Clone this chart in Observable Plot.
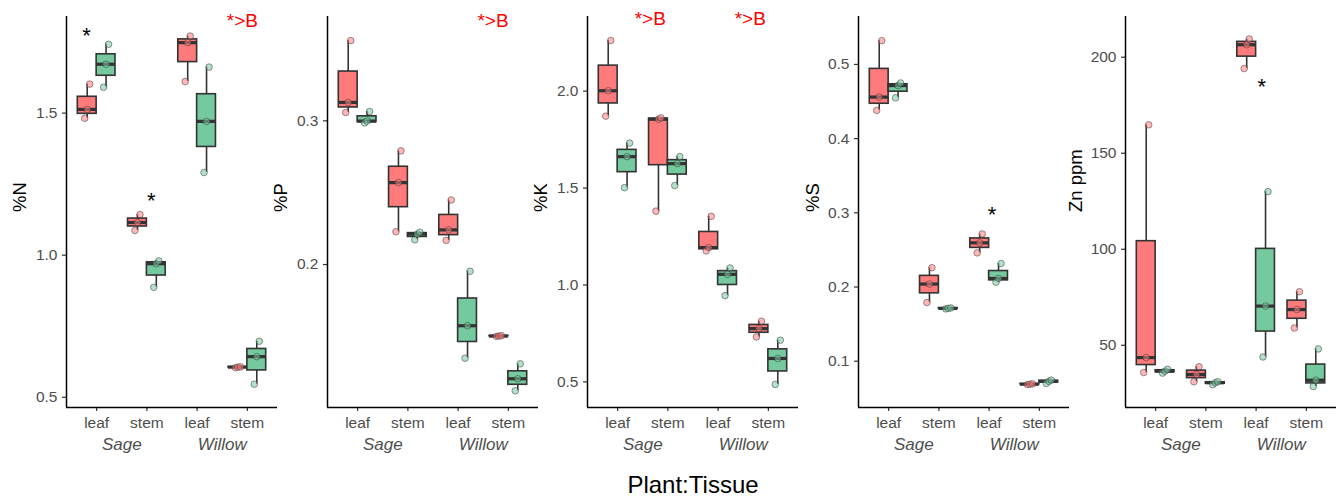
<!DOCTYPE html>
<html>
<head>
<meta charset="utf-8">
<script src="https://cdn.jsdelivr.net/npm/d3@7"></script>
<script src="https://cdn.jsdelivr.net/npm/@observablehq/plot@0.6"></script>
<style>
html, body { margin: 0; padding: 0; background: #fff; overflow: hidden; }
#wrap { position: relative; width: 1338px; height: 498px; font-family: "Liberation Sans", Arial, Helvetica, sans-serif; }
.panel { position: absolute; top: 0; }
#xtitle { position: absolute; top: 473px; left: 693px; transform: translateX(-50%); font-size: 24px; line-height: 24px; color: #000; white-space: nowrap; }
</style>
</head>
<body>
<div id="wrap"><div id="xtitle">Plant:Tissue</div></div>
<script>
// ---- categories ----
const plants = ["Sage", "Sage", "Willow", "Willow"];
const tissues = ["leaf", "stem", "leaf", "stem"];
const treatments = ["A", "B"];
const colors = ["#FF7B7B", "#74C99E"];

// ---- series values (3 replicates per Plant:Tissue group, order as above) ----
const N_A = [[1.482, 1.513, 1.602], [1.087, 1.115, 1.143], [1.611, 1.748, 1.771], [0.604, 0.606, 0.607]];
const N_B = [[1.591, 1.672, 1.742], [0.887, 0.970, 0.980], [1.291, 1.471, 1.662], [0.546, 0.643, 0.697]];

const P_A = [[0.3058, 0.3128, 0.3558], [0.2228, 0.2570, 0.2791], [0.2168, 0.2241, 0.2449], [0.1500, 0.1502, 0.1505]];
const P_B = [[0.2985, 0.2998, 0.3065], [0.2172, 0.2212, 0.2225], [0.1348, 0.1574, 0.1953], [0.1121, 0.1205, 0.1309]];

const K_A = [[1.871, 2.002, 2.261], [1.381, 1.855, 1.862], [1.176, 1.193, 1.354], [0.732, 0.775, 0.813]];
const K_B = [[1.502, 1.662, 1.732], [1.513, 1.626, 1.662], [0.945, 1.055, 1.088], [0.487, 0.621, 0.715]];

const S_A = [[0.438, 0.456, 0.532], [0.179, 0.204, 0.226], [0.246, 0.2595, 0.2715], [0.0685, 0.0690, 0.0695]];
const S_B = [[0.455, 0.4715, 0.475], [0.1705, 0.1712, 0.1718], [0.2065, 0.2115, 0.2316], [0.0700, 0.0728, 0.0745]];

const Zn_A = [[35.8, 43.6, 164.8], [31.0, 34.8, 38.8], [194.1, 206.5, 209.5], [59.0, 68.6, 77.9]];
const Zn_B = [[35.5, 36.5, 37.5], [29.5, 30.5, 31.0], [43.9, 70.4, 130.0], [28.5, 31.8, 48.1]];

// ---- tick labels ----
const N_ticks = [0.5, 1.0, 1.5];
const P_ticks = [0.2, 0.3];
const K_ticks = [0.5, 1.0, 1.5, 2.0];
const S_ticks = [0.1, 0.2, 0.3, 0.4, 0.5];
const Zn_ticks = [50, 100, 150, 200];

// ---- significance annotations (data coordinates) ----
const N_stars = [{x: 0.80, y: 1.781}, {x: 2.09, y: 1.199}];
const N_marks = [{x: 3.90, y: 1.8245, label: "*>B"}];
const P_stars = [];
const P_marks = [{x: 3.695, y: 0.3697, label: "*>B"}];
const K_stars = [];
const K_marks = [{x: 1.65, y: 2.375, label: "*>B"}, {x: 3.64, y: 2.375, label: "*>B"}];
const S_stars = [{x: 3.06, y: 0.301}];
const S_marks = [];
const Zn_stars = [{x: 3.115, y: 185.8}];
const Zn_marks = [];

const FONT = '"Liberation Sans", Arial, Helvetica, sans-serif';
const ML = 62, MR = 2, PW = 211, H = 460;

function panel(cfg) {
  const pos = tissues.map((_, i) => i + 1);
  const W = 0.375;
  const groups = [], points = [];
  [cfg.A, cfg.B].forEach((vals, t) => {
    vals.forEach((v, g) => {
      const s = v.slice().sort(d3.ascending);
      const x1 = t === 0 ? pos[g] - W : pos[g];
      const x2 = t === 0 ? pos[g] : pos[g] + W;
      const xc = (x1 + x2) / 2;
      groups.push({
        trt: treatments[t], x1, x2, xc,
        min: d3.min(s), q1: d3.quantile(s, 0.25), med: d3.quantile(s, 0.5),
        q3: d3.quantile(s, 0.75), max: d3.max(s)
      });
      s.forEach((y, i) => points.push({trt: treatments[t], x: xc + (i - 1) * 0.05, y}));
    });
  });
  const plantLabels = d3.rollups(pos, v => d3.mean(v), i => plants[i - 1]).map(([name, x]) => ({name, x}));
  return Plot.plot({
    width: ML + PW + MR,
    height: H,
    marginLeft: ML, marginRight: MR, marginTop: 16, marginBottom: 53,
    style: {background: "transparent", overflow: "visible", fontFamily: FONT},
    x: {domain: [0.4, 4.6]},
    y: {domain: cfg.domain},
    color: {domain: treatments, range: colors},
    marks: [
      Plot.axisY({ticks: cfg.ticks, tickFormat: cfg.fmt, tickSize: 4, tickPadding: 5, fontSize: 15.5,
        fill: "#4d4d4d", stroke: "#333", strokeWidth: 1.2, label: null}),
      Plot.axisX({ticks: pos, tickFormat: i => tissues[i - 1], tickSize: 4, tickPadding: 5.4, fontSize: 15.5,
        fill: "#4d4d4d", stroke: "#333", strokeWidth: 1.2, label: null}),
      Plot.ruleX([0.4], {stroke: "black", strokeWidth: 1.5}),
      Plot.ruleY([cfg.domain[0]], {stroke: "black", strokeWidth: 1.5}),
      Plot.ruleX(groups, {x: "xc", y1: "min", y2: "max", stroke: "#333", strokeWidth: 1.6}),
      Plot.rect(groups, {x1: "x1", x2: "x2", y1: "q1", y2: "q3", fill: "trt", stroke: "#333", strokeWidth: 1.6}),
      Plot.ruleY(groups, {x1: "x1", x2: "x2", y: "med", stroke: "#333", strokeWidth: 3.2}),
      Plot.dot(points, {x: "x", y: "y", r: 3.3, fill: "trt", fillOpacity: 0.55, stroke: "#333", strokeOpacity: 0.5, strokeWidth: 1}),
      Plot.text(plantLabels, {x: "x", text: "name", frameAnchor: "bottom", lineAnchor: "bottom", dy: 42,
        fontSize: 17, fontStyle: "italic", fill: "#4d4d4d"}),
      Plot.text([cfg.title], {text: d => d, frameAnchor: "left", rotate: -90, dx: -cfg.offset, lineAnchor: "top",
        fontSize: 18.5, fill: "black"}),
      Plot.text(cfg.stars, {x: "x", y: "y", text: d => "*", fontSize: 22, dy: 2.7, fill: "black"}),
      Plot.text(cfg.marks, {x: "x", y: "y", text: "label", fontSize: 19, fill: "#FF0000"})
    ]
  });
}

const f1 = d3.format(".1f");
const panels = [
  {axis: 66, title: "%N", domain: [0.464, 1.840], ticks: N_ticks, fmt: f1, A: N_A, B: N_B, stars: N_stars, marks: N_marks, offset: 53.3},
  {axis: 327.3, title: "%P", domain: [0.1005, 0.3726], ticks: P_ticks, fmt: f1, A: P_A, B: P_B, stars: P_stars, marks: P_marks, offset: 54},
  {axis: 587.3, title: "%K", domain: [0.368, 2.385], ticks: K_ticks, fmt: f1, A: K_A, B: K_B, stars: K_stars, marks: K_marks, offset: 54},
  {axis: 858, title: "%S", domain: [0.0376, 0.5646], ticks: S_ticks, fmt: f1, A: S_A, B: S_B, stars: S_stars, marks: S_marks, offset: 53},
  {axis: 1125, title: "Zn ppm", domain: [17.6, 221.2], ticks: Zn_ticks, fmt: d3.format("d"), A: Zn_A, B: Zn_B, stars: Zn_stars, marks: Zn_marks, offset: 56.5}
];

const wrap = document.getElementById("wrap");
panels.forEach(cfg => {
  const div = document.createElement("div");
  div.className = "panel";
  div.style.left = (cfg.axis - ML) + "px";
  div.style.width = (ML + PW + MR) + "px";
  div.appendChild(panel(cfg));
  wrap.appendChild(div);
});
</script>
</body>
</html>
